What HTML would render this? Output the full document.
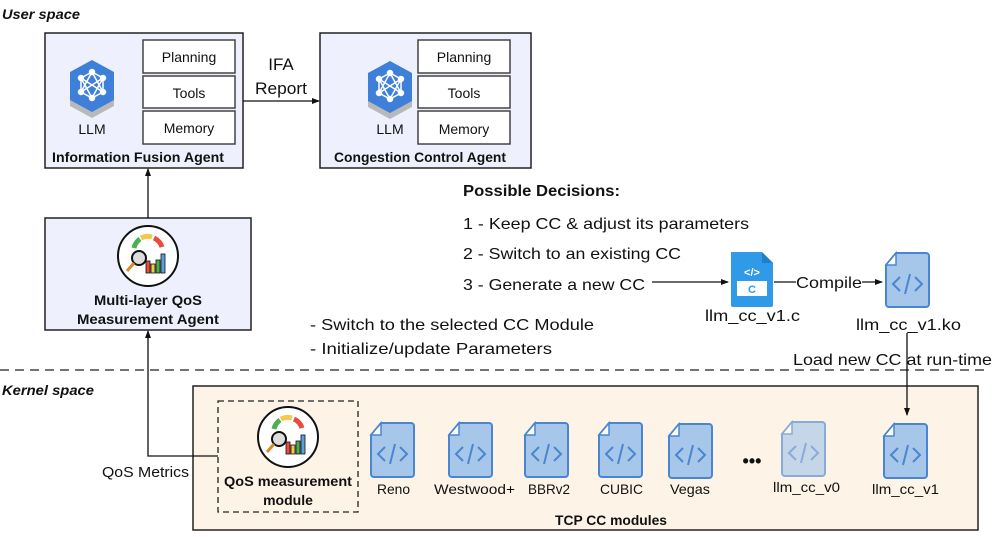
<!DOCTYPE html>
<html><head><meta charset="utf-8"><style>
html,body{margin:0;padding:0;background:#fff}
svg{display:block}
text{font-family:"Liberation Sans",sans-serif;fill:#111}
.b{font-weight:bold}
</style></head><body>
<svg width="997" height="537" viewBox="0 0 997 537" xmlns="http://www.w3.org/2000/svg">
<defs>
<marker id="ar" markerWidth="8" markerHeight="8" refX="7" refY="4" orient="auto" markerUnits="userSpaceOnUse"><path d="M0,1 L8,4 L0,7 z" fill="#111"/></marker>
<g id="file">
<path d="M10,0 H40 a3,3 0 0 1 3,3 V51 a3,3 0 0 1 -3,3 H3 a3,3 0 0 1 -3,-3 V12 Z" fill="#a7c7ea" stroke="#4a86d0" stroke-width="2"/>
<path d="M10,0 V12 H0 Z" fill="#fff" stroke="#4a86d0" stroke-width="1.5"/>
<path d="M14,24 L7,31 L14,38 M29,24 L36,31 L29,38 M24,21 L19,41" fill="none" stroke="#4a86d0" stroke-width="2"/>
</g>
<g id="llm">
<path d="M0,-18 L22,-6 L22,24 L0,36 L-22,24 L-22,-6 Z" fill="#b9b9b9"/>
<path d="M0,-22 L22,-10 L22,18 L0,30 L-22,18 L-22,-10 Z" fill="#3d7fd9"/>
<g stroke="#fff" stroke-width="1.5" fill="none">
<circle cx="0" cy="-10" r="2.5" fill="#fff"/><circle cx="-11" cy="-4" r="2.5" fill="#fff"/><circle cx="11" cy="-4" r="2.5" fill="#fff"/>
<circle cx="-11" cy="10" r="2.5" fill="#fff"/><circle cx="11" cy="10" r="2.5" fill="#fff"/><circle cx="0" cy="16" r="2.5" fill="#fff"/>
<path d="M0,-10 L-11,-4 L-11,10 L0,16 L11,10 L11,-4 Z M0,-10 L-11,10 M0,-10 L11,10 M-11,-4 L11,10 M11,-4 L-11,10 M-11,-4 L0,16 M11,-4 L0,16"/>
</g>
</g>
<g id="qos">
<circle cx="0" cy="0" r="30" fill="#fff" stroke="#111" stroke-width="2"/>
<path d="M-14,-8 A15,15 0 0 1 -8,-17" stroke="#4caf50" stroke-width="5" fill="none"/>
<path d="M-7,-18 A15,15 0 0 1 4,-19" stroke="#f2c94c" stroke-width="5" fill="none"/>
<path d="M6,-18 A15,15 0 0 1 14,-9" stroke="#e74c3c" stroke-width="5" fill="none"/>
<rect x="-2" y="5" width="4" height="12" fill="#e74c3c" stroke="#111" stroke-width="0.8"/>
<rect x="3" y="8" width="4" height="9" fill="#f2c94c" stroke="#111" stroke-width="0.8"/>
<rect x="8" y="4" width="4" height="13" fill="#4caf50" stroke="#111" stroke-width="0.8"/>
<rect x="13" y="-2" width="4" height="19" fill="#5aa0e0" stroke="#111" stroke-width="0.8"/>
<circle cx="-9" cy="2" r="7" fill="#ddd" stroke="#111" stroke-width="2"/>
<path d="M-14,7 L-21,15" stroke="#d98b2b" stroke-width="3"/>
</g>
</defs>

<text x="2" y="19" class="b" font-style="italic" font-size="14" textLength="78" lengthAdjust="spacingAndGlyphs">User space</text>

<!-- IFA -->
<rect x="45" y="33" width="198" height="135" fill="#eef1fd" stroke="#222" stroke-width="1.5"/>
<rect x="143" y="40" width="92" height="33" fill="#fff" stroke="#444" stroke-width="1.5"/>
<rect x="143" y="76" width="92" height="32" fill="#fff" stroke="#444" stroke-width="1.5"/>
<rect x="143" y="111" width="92" height="33" fill="#fff" stroke="#444" stroke-width="1.5"/>
<text x="189" y="62" font-size="14" text-anchor="middle">Planning</text>
<text x="189" y="98" font-size="14" text-anchor="middle">Tools</text>
<text x="189" y="133" font-size="14" text-anchor="middle">Memory</text>
<use href="#llm" x="92" y="82"/>
<text x="92" y="134" font-size="14" text-anchor="middle">LLM</text>
<text x="52" y="162" class="b" font-size="13.5" textLength="172" lengthAdjust="spacingAndGlyphs">Information Fusion Agent</text>

<!-- CCA -->
<rect x="320" y="33" width="211" height="135" fill="#eef1fd" stroke="#222" stroke-width="1.5"/>
<rect x="418" y="40" width="92" height="33" fill="#fff" stroke="#444" stroke-width="1.5"/>
<rect x="418" y="76" width="92" height="32" fill="#fff" stroke="#444" stroke-width="1.5"/>
<rect x="418" y="111" width="92" height="33" fill="#fff" stroke="#444" stroke-width="1.5"/>
<text x="464" y="62" font-size="14" text-anchor="middle">Planning</text>
<text x="464" y="98" font-size="14" text-anchor="middle">Tools</text>
<text x="464" y="134" font-size="14" text-anchor="middle">Memory</text>
<use href="#llm" x="390" y="83"/>
<text x="390" y="134" font-size="14" text-anchor="middle">LLM</text>
<text x="334" y="162" class="b" font-size="13.5" textLength="172" lengthAdjust="spacingAndGlyphs">Congestion Control Agent</text>

<line x1="243" y1="101" x2="319" y2="101" stroke="#111" stroke-width="1.3" marker-end="url(#ar)"/>
<text x="281" y="70" font-size="17" text-anchor="middle">IFA</text>
<text x="255" y="94" font-size="17" textLength="52" lengthAdjust="spacingAndGlyphs">Report</text>

<!-- Multi-layer -->
<rect x="45" y="218" width="206" height="112" fill="#eef1fd" stroke="#222" stroke-width="1.5"/>
<use href="#qos" x="148" y="256"/>
<text x="94" y="305" class="b" font-size="14" textLength="108" lengthAdjust="spacingAndGlyphs">Multi-layer QoS</text>
<text x="77" y="324" class="b" font-size="14" textLength="142" lengthAdjust="spacingAndGlyphs">Measurement Agent</text>
<line x1="148" y1="218" x2="148" y2="169" stroke="#111" stroke-width="1.3" marker-end="url(#ar)"/>

<!-- decisions -->
<text x="463" y="196" class="b" font-size="16" textLength="157" lengthAdjust="spacingAndGlyphs">Possible Decisions:</text>
<text x="463" y="229" font-size="16" textLength="286" lengthAdjust="spacingAndGlyphs">1 - Keep CC &amp; adjust its parameters</text>
<text x="463" y="259" font-size="16" textLength="218" lengthAdjust="spacingAndGlyphs">2 - Switch to an existing CC</text>
<text x="463" y="290" font-size="16" textLength="182" lengthAdjust="spacingAndGlyphs">3 - Generate a new CC</text>
<line x1="652" y1="282" x2="728" y2="282" stroke="#111" stroke-width="1.3" marker-end="url(#ar)"/>
<text x="310" y="330" font-size="16" textLength="284" lengthAdjust="spacingAndGlyphs">- Switch to the selected CC Module</text>
<text x="310" y="354" font-size="16" textLength="242" lengthAdjust="spacingAndGlyphs">- Initialize/update Parameters</text>

<!-- c file -->
<path d="M731,252 H762 L773,263 V305 a2,2 0 0 1 -2,2 H733 a2,2 0 0 1 -2,-2 Z" fill="#2f9be8"/>
<path d="M762,252 V263 H773 Z" fill="#1f7fc8"/>
<rect x="737" y="281" width="30" height="15" fill="#fff"/>
<text x="752" y="293" font-size="11" text-anchor="middle" style="fill:#2f9be8" class="b">C</text>
<text x="752" y="276" font-size="11" text-anchor="middle" style="fill:#fff" class="b">&lt;/&gt;</text>
<text x="705" y="321" font-size="16" textLength="95" lengthAdjust="spacingAndGlyphs">llm_cc_v1.c</text>
<line x1="774" y1="282" x2="796" y2="282" stroke="#111" stroke-width="1.3"/>
<text x="796" y="288" font-size="16" textLength="66" lengthAdjust="spacingAndGlyphs">Compile</text>
<line x1="862" y1="282" x2="882" y2="282" stroke="#111" stroke-width="1.3" marker-end="url(#ar)"/>
<use href="#file" x="886" y="253"/>
<text x="856" y="330" font-size="16" textLength="105" lengthAdjust="spacingAndGlyphs">llm_cc_v1.ko</text>

<!-- dashed divider -->
<line x1="0" y1="370" x2="988" y2="370" stroke="#222" stroke-width="1.3" stroke-dasharray="9,6"/>
<text x="2" y="395" class="b" font-style="italic" font-size="14" textLength="92" lengthAdjust="spacingAndGlyphs">Kernel space</text>

<!-- kernel box -->
<rect x="193" y="386" width="785" height="144" fill="#fdf3e7" stroke="#222" stroke-width="1.5"/>
<line x1="907" y1="333" x2="907" y2="415" stroke="#111" stroke-width="1.3" marker-end="url(#ar)"/>
<text x="793" y="365" font-size="16" textLength="199" lengthAdjust="spacingAndGlyphs">Load new CC at run-time</text>

<rect x="218" y="401" width="140" height="111" fill="none" stroke="#222" stroke-width="1.3" stroke-dasharray="6,4"/>
<use href="#qos" x="288" y="437"/>
<text x="224" y="486" class="b" font-size="14" textLength="128" lengthAdjust="spacingAndGlyphs">QoS measurement</text>
<text x="288" y="505" class="b" font-size="14" text-anchor="middle">module</text>
<polyline points="218,456 148,456 148,331" fill="none" stroke="#111" stroke-width="1.3" marker-end="url(#ar)"/>
<text x="102" y="477" font-size="15" textLength="87" lengthAdjust="spacingAndGlyphs">QoS Metrics</text>

<use href="#file" x="371" y="423"/>
<text x="377" y="494" font-size="14" textLength="33" lengthAdjust="spacingAndGlyphs">Reno</text>
<use href="#file" x="449" y="423"/>
<text x="434" y="494" font-size="14" textLength="81" lengthAdjust="spacingAndGlyphs">Westwood+</text>
<use href="#file" x="525" y="423"/>
<text x="528" y="494" font-size="14" textLength="42" lengthAdjust="spacingAndGlyphs">BBRv2</text>
<use href="#file" x="599" y="423"/>
<text x="600" y="494" font-size="14" textLength="43" lengthAdjust="spacingAndGlyphs">CUBIC</text>
<use href="#file" x="669" y="424"/>
<text x="670" y="494" font-size="14" textLength="40" lengthAdjust="spacingAndGlyphs">Vegas</text>
<text x="752" y="467" font-size="18" class="b" text-anchor="middle">•••</text>
<use href="#file" x="782" y="422" opacity="0.65"/>
<text x="773" y="492" font-size="14" textLength="67" lengthAdjust="spacingAndGlyphs">llm_cc_v0</text>
<use href="#file" x="884" y="424"/>
<text x="872" y="494" font-size="14" textLength="67" lengthAdjust="spacingAndGlyphs">llm_cc_v1</text>
<text x="555" y="525" class="b" font-size="13.5" textLength="112" lengthAdjust="spacingAndGlyphs">TCP CC modules</text>
</svg>
</body></html>
